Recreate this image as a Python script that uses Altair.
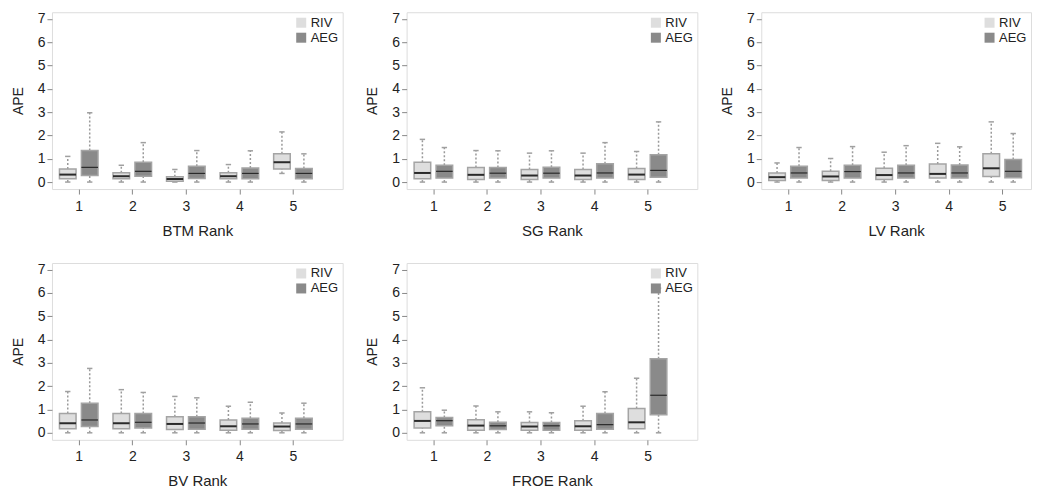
import altair as alt
import pandas as pd

RANKS = [1, 2, 3, 4, 5]
SERIES = ["RIV", "AEG"]
PANELS = ["BTM", "SG", "LV", "BV", "FROE"]
COLORS = ["#dedede", "#8a8a8a"]

# per rank: [whisker low, Q1, median, Q3, whisker high]
BTM_RIV = [[0, 0.14, 0.32, 0.56, 1.10], [0, 0.14, 0.25, 0.40, 0.72], [0, 0.04, 0.13, 0.23, 0.54],
           [0, 0.14, 0.25, 0.40, 0.75], [0.37, 0.56, 0.85, 1.21, 2.15]]
BTM_AEG = [[0, 0.28, 0.63, 1.35, 2.97], [0, 0.25, 0.46, 0.85, 1.69], [0, 0.15, 0.37, 0.68, 1.35],
           [0, 0.14, 0.37, 0.60, 1.34], [0, 0.14, 0.37, 0.58, 1.21]]
SG_RIV = [[0, 0.14, 0.39, 0.85, 1.83], [0, 0.11, 0.31, 0.62, 1.35], [0, 0.11, 0.28, 0.54, 1.24],
          [0, 0.11, 0.28, 0.54, 1.24], [0, 0.11, 0.32, 0.58, 1.31]]
SG_AEG = [[0, 0.17, 0.46, 0.72, 1.48], [0, 0.17, 0.38, 0.62, 1.34], [0, 0.17, 0.38, 0.63, 1.34],
          [0, 0.17, 0.39, 0.79, 1.69], [0, 0.21, 0.50, 1.17, 2.58]]
LV_RIV = [[0, 0.07, 0.21, 0.39, 0.82], [0, 0.07, 0.24, 0.46, 1.01], [0, 0.11, 0.30, 0.59, 1.28],
          [0, 0.17, 0.35, 0.77, 1.66], [0, 0.24, 0.59, 1.21, 2.58]]
LV_AEG = [[0, 0.17, 0.39, 0.68, 1.48], [0, 0.17, 0.45, 0.72, 1.52], [0, 0.17, 0.39, 0.72, 1.56],
          [0, 0.17, 0.39, 0.73, 1.51], [0, 0.18, 0.46, 0.97, 2.08]]
BV_RIV = [[0, 0.17, 0.41, 0.83, 1.77], [0, 0.17, 0.41, 0.83, 1.85], [0, 0.14, 0.38, 0.69, 1.56],
          [0, 0.11, 0.28, 0.55, 1.14], [0, 0.10, 0.27, 0.42, 0.85]]
BV_AEG = [[0, 0.27, 0.55, 1.27, 2.76], [0, 0.21, 0.45, 0.83, 1.73], [0, 0.15, 0.42, 0.69, 1.50],
          [0, 0.15, 0.38, 0.62, 1.31], [0, 0.15, 0.38, 0.62, 1.27]]
FROE_RIV = [[0, 0.21, 0.51, 0.90, 1.93], [0, 0.11, 0.31, 0.56, 1.15], [0, 0.11, 0.27, 0.44, 0.90],
            [0, 0.11, 0.28, 0.52, 1.14], [0, 0.17, 0.45, 1.04, 2.34]]
FROE_AEG = [[0, 0.30, 0.52, 0.66, 0.97], [0, 0.14, 0.30, 0.45, 0.90], [0, 0.11, 0.30, 0.44, 0.86],
            [0, 0.15, 0.35, 0.83, 1.76], [0, 0.77, 1.61, 3.17, 6.20]]

STATS = {
    "BTM": (BTM_RIV, BTM_AEG), "SG": (SG_RIV, SG_AEG), "LV": (LV_RIV, LV_AEG),
    "BV": (BV_RIV, BV_AEG), "FROE": (FROE_RIV, FROE_AEG),
}

rows = []
for p in PANELS:
    for s, stats in zip(SERIES, STATS[p]):
        for r, (lo, q1, med, q3, hi) in zip(RANKS, stats):
            rows.append(dict(panel=p, rank=r, series=s, lo=lo, q1=q1, med=med, q3=q3, hi=hi))
df = pd.DataFrame(rows)

FONT = "Liberation Sans"
PX_PER_RANK = 53.6


def panel(name, width=291):
    xmax = 0.5 + width / PX_PER_RANK
    xaxis = alt.Axis(values=RANKS, title=f"{name} Rank", grid=False, domain=False,
                     tickSize=5, tickColor="#888", labelPadding=5, labelFontSize=14,
                     labelColor="#222", titleFontSize=15, titleFontWeight="normal",
                     titleColor="#222", titlePadding=10, labelFont=FONT, titleFont=FONT)
    yaxis = alt.Axis(values=list(range(8)), title="APE", grid=False, domain=False,
                     tickSize=5, tickColor="#888", labelPadding=2, labelFontSize=14,
                     labelColor="#222", titleFontSize=14, titleFontWeight="normal",
                     titleColor="#222", titlePadding=12, labelFont=FONT, titleFont=FONT)
    xs = alt.Scale(domain=[0.5, xmax], nice=False, zero=False)
    ys = alt.Scale(domain=[-0.3, 7.28], nice=False, zero=False)

    base = (alt.Chart(df)
            .transform_filter(alt.datum.panel == name)
            .transform_calculate(pos="datum.rank + (datum.series == 'RIV' ? -0.205 : 0.205)")
            .transform_calculate(bx0="datum.pos - 0.155", bx1="datum.pos + 0.155",
                                 cx0="datum.pos - 0.05", cx1="datum.pos + 0.05"))

    whisk_hi = base.mark_rule(color="#9a9a9a", strokeWidth=1.5, strokeDash=[2, 2]).encode(
        x=alt.X("pos:Q", scale=xs, axis=xaxis), y=alt.Y("q3:Q", scale=ys, axis=yaxis), y2="hi:Q")
    whisk_lo = base.mark_rule(color="#9a9a9a", strokeWidth=1.5, strokeDash=[2, 2]).encode(
        x=alt.X("pos:Q", scale=xs, axis=xaxis), y=alt.Y("lo:Q", scale=ys, axis=yaxis), y2="q1:Q")
    cap_hi = base.mark_rule(color="#a0a0a0", strokeWidth=1.5).encode(
        x=alt.X("cx0:Q", scale=xs, axis=xaxis), x2="cx1:Q", y=alt.Y("hi:Q", scale=ys, axis=yaxis))
    cap_lo = base.mark_rule(color="#a0a0a0", strokeWidth=1.5).encode(
        x=alt.X("cx0:Q", scale=xs, axis=xaxis), x2="cx1:Q", y=alt.Y("lo:Q", scale=ys, axis=yaxis))
    box = base.mark_rect(stroke="#a4a4a4", strokeWidth=1.5).encode(
        x=alt.X("bx0:Q", scale=xs, axis=xaxis), x2="bx1:Q",
        y=alt.Y("q1:Q", scale=ys, axis=yaxis), y2="q3:Q",
        color=alt.Color("series:N", scale=alt.Scale(domain=SERIES, range=COLORS),
                        legend=alt.Legend(title=None, orient="top-right", offset=4, padding=0,
                                          symbolType="square", symbolSize=100,
                                          symbolStrokeWidth=0, labelFontSize=13, labelFont=FONT,
                                          labelColor="#222", rowPadding=1, labelOffset=3)))
    median = base.mark_rule(color="#2a2a2a").encode(
        x=alt.X("bx0:Q", scale=xs, axis=xaxis), x2="bx1:Q",
        y=alt.Y("med:Q", scale=ys, axis=yaxis),
        strokeWidth=alt.condition(alt.datum.series == "RIV", alt.value(2), alt.value(1.2)))

    return alt.layer(whisk_hi, whisk_lo, cap_hi, cap_lo, box, median).properties(
        width=width, height=177)


row1 = alt.hconcat(panel("BTM"), panel("SG"), panel("LV", width=270),
                   spacing=21).resolve_scale(color="independent")
row2 = alt.hconcat(panel("BV"), panel("FROE"), spacing=21).resolve_scale(color="independent")

chart = (alt.vconcat(row1, row2, spacing=23)
         .resolve_scale(color="independent")
         .properties(padding={"left": 2, "top": 3, "right": 0, "bottom": 0})
         .configure_view(stroke="#c4c4c4", strokeWidth=2)
         .configure(background="white"))

chart.save("out.html", embed_options={"renderer": "svg", "actions": False})
